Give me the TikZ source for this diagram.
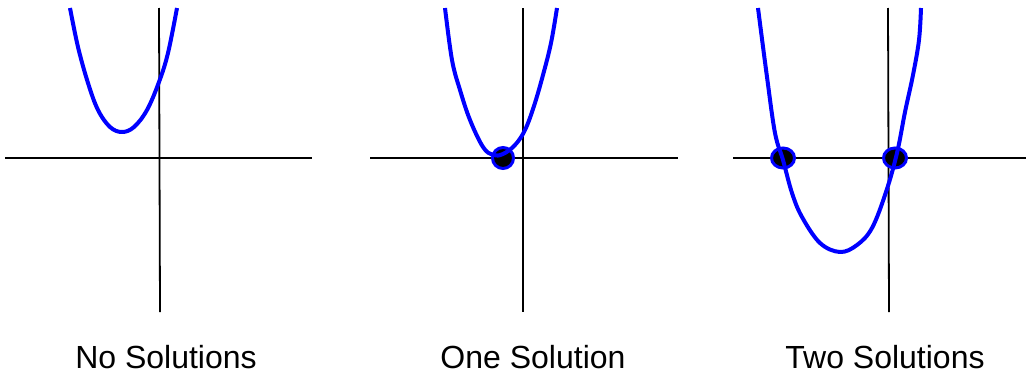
\documentclass[tikz,border=0pt]{standalone}
\usepackage{fontspec}
\setmainfont{Liberation Sans}
\definecolor{curveblue}{RGB}{0,0,255}
\tikzset{
  axis/.style={draw=black,line width=1.8pt},
  curve/.style={draw=curveblue,line width=4pt,line join=round},
  root/.style={draw=curveblue,line width=3pt,fill=black},
  caption/.style={anchor=base,inner sep=0pt,font=\fontsize{32}{38}\selectfont}
}
\begin{document}
\begin{tikzpicture}[x=1pt,y=-1pt]
\useasboundingbox (0,0) rectangle (1026,375);
% Panel 1
\draw[axis] (5,158) -- (312,158);
\draw[axis] (159,8) -- (160,312);
\draw[curve] plot[smooth,tension=0.6] coordinates {(70,8) (78,47) (88,83) (98,110) (110,127) (122,132) (134,127) (147,110) (159,82) (168,53) (177,8)};
\node[caption] (lab1) at (166,368) {No Solutions};
% Panel 2
\draw[axis] (370,158) -- (678,158);
\draw[axis] (523,8) -- (523,312);
\draw[root] (503,158) circle (10.5);
\draw[curve] plot[smooth,tension=0.6] coordinates {(445,8) (452,60) (460,90) (470,120) (483,147) (493,155) (503,154) (515,145) (525,130) (534,106) (543,75) (551,43) (557,8)};
\node[caption] (lab2) at (533,368) {One Solution};
% Panel 3
\draw[axis] (733,158) -- (1026,158);
\draw[axis] (888,8) -- (889,312);
\draw[root] (783,158) ellipse [x radius=11.5,y radius=10];
\draw[root] (895,158) ellipse [x radius=11.5,y radius=10];
\draw[curve] plot[smooth,tension=0.6] coordinates {(758,8) (767,77) (775,133) (783,160) (792,193) (802,217) (820,243) (840,252) (857,245) (872,228) (886,192) (897,153) (905,112) (913,75) (919,40) (921,8)};
\node[caption] (lab3) at (885,368) {Two Solutions};
\end{tikzpicture}
\end{document}
